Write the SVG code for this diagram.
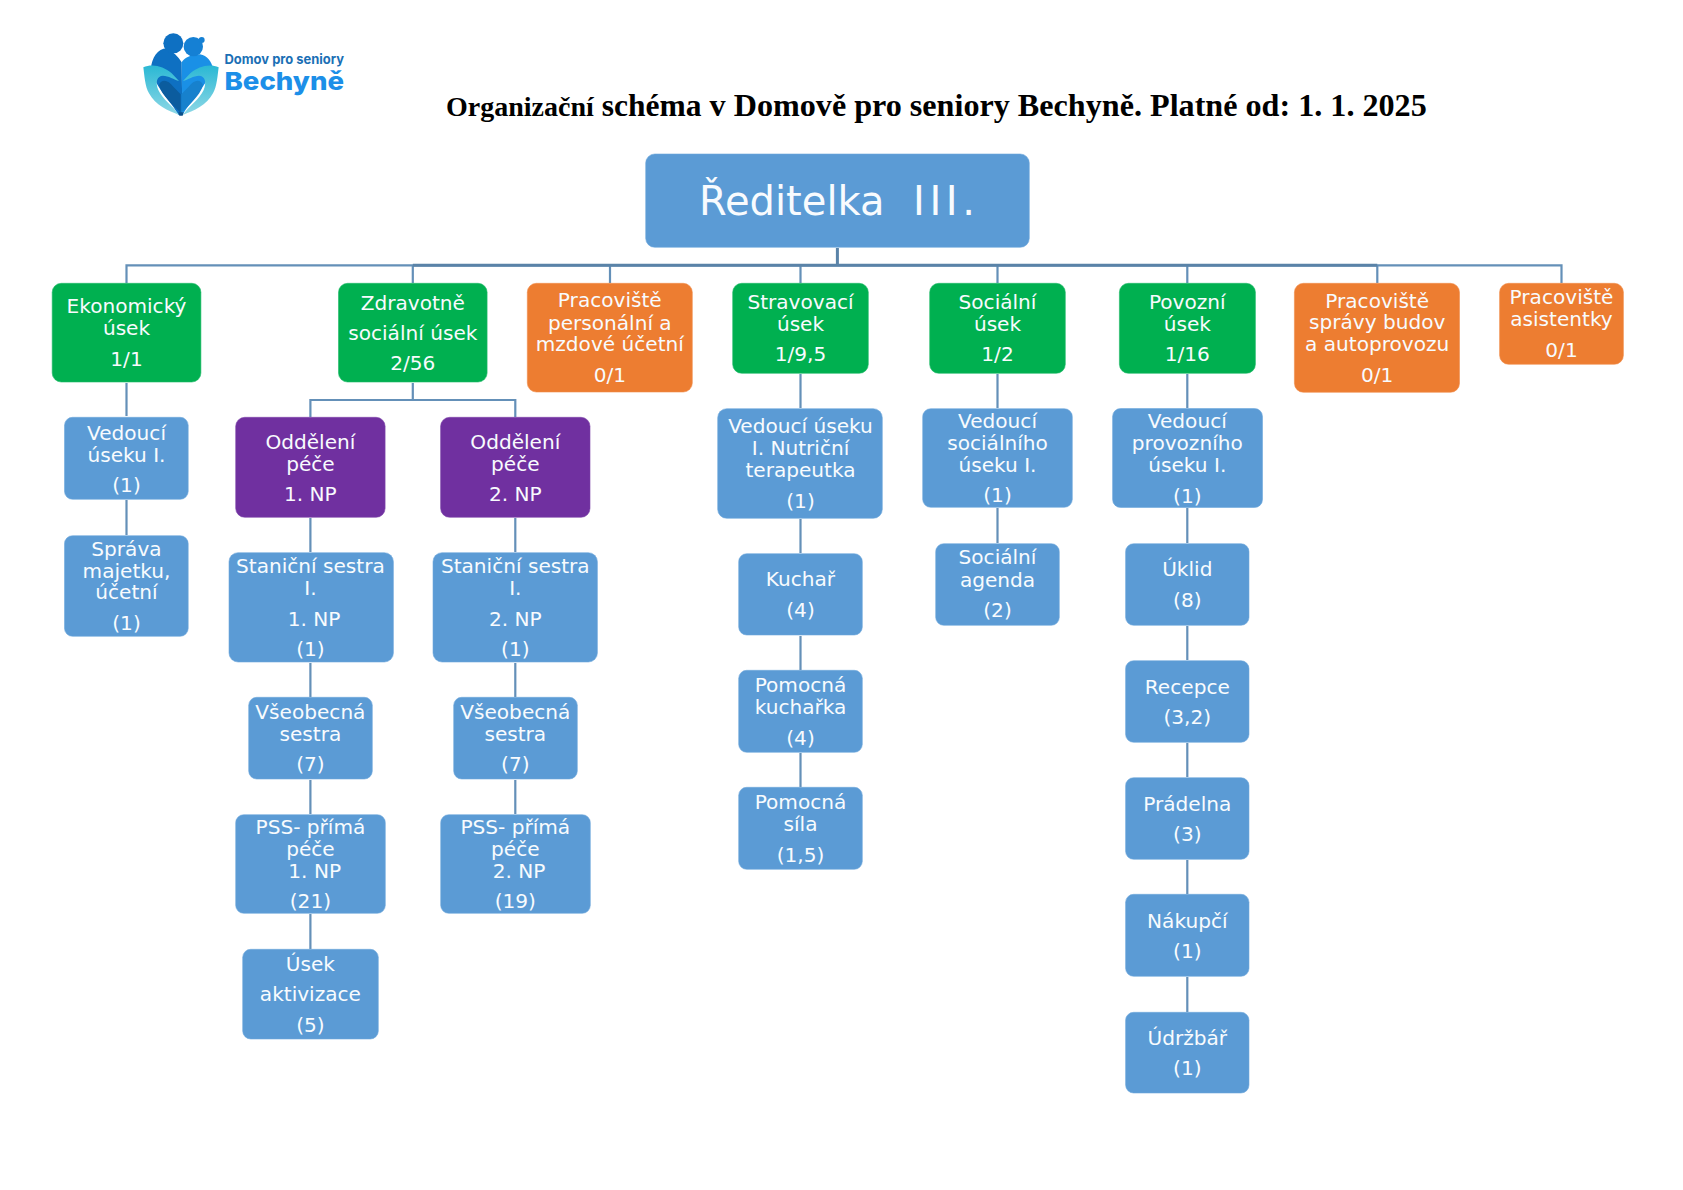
<svg xmlns="http://www.w3.org/2000/svg" width="1683" height="1190" viewBox="0 0 1683 1190">
<style>
.b{fill:#5b9bd5;stroke:#6fa8dc}.g{fill:#00b050;stroke:#1fb868}.o{fill:#ed7d31;stroke:#f08d4b}.p{fill:#7030a0;stroke:#7d45aa}
rect{stroke-width:.6}
text{font-family:"DejaVu Sans",Verdana,sans-serif;font-size:20.1px;fill:#f8fbfe;text-anchor:middle}
#connectors path{fill:none;stroke:#6490b8;stroke-width:2.2}
#connectors path.trunk{stroke:#5a83a8;stroke-width:3}
#title text{font-family:"Liberation Serif",serif;font-weight:bold;fill:#000;text-anchor:start;font-size:32.15px}
#logo text{text-anchor:start;font-family:Inter,"Open Sans",sans-serif}
</style>
<defs>
<linearGradient id="hand" x1="0" y1="0" x2="0" y2="1"><stop offset="0" stop-color="#2ab8d4"/><stop offset="1" stop-color="#8ed8e6"/></linearGradient>
</defs>
<rect width="1683" height="1190" fill="#fff" stroke="none"/>
<g id="logo">
<g transform="translate(135 25) scale(.3333)">
<path fill="#0e70c2" d="M48 130C50 100 68 70 95 70C115 82 130 95 140 112L142 270H130C110 230 60 190 48 130Z"/>
<path fill="#1a90e6" d="M140 112C150 98 165 90 195 88C217 92 230 110 234 130C210 190 165 230 142 270Z"/>
<circle cx="115" cy="55" r="30" fill="#0e70c2"/>
<circle cx="175" cy="65" r="29" fill="#1580d4"/>
<circle cx="200" cy="45" r="9" fill="#1580d4"/>
<path fill="#0b5c9e" d="M72 180C80 160 100 165 115 185L137 208V264C115 240 82 215 72 180Z"/>
<path fill="#1781cd" d="M204 180C196 160 176 165 161 185L139 208V264C161 240 194 215 204 180Z"/>
<path fill="url(#hand)" d="M25 127C50 115 85 122 110 145L132 168C118 164 100 152 84 152C66 152 60 172 70 195C82 222 115 245 133 270C100 258 60 240 42 205C30 185 28 150 25 127Z"/>
<path fill="url(#hand)" d="M251 127C226 115 191 122 166 145L144 168C158 164 176 152 192 152C210 152 216 172 206 195C194 222 161 245 143 270C176 258 216 240 234 205C246 185 248 150 251 127Z"/>
<path fill="#0b4f8a" d="M130 262H146L143 272H133Z"/>
</g>
<text x="224.5" y="64.3" style="fill:#1a6fb5;font-size:13px;font-weight:700" textLength="119.5" lengthAdjust="spacingAndGlyphs">Domov pro seniory</text>
<text x="224.5" y="90" style="fill:#1c8fe8;font-size:25px;font-weight:800" textLength="119.5" lengthAdjust="spacingAndGlyphs">Bechyně</text>
</g>
<g id="title"><text x="446" y="116"><tspan style="font-size:28px">Organizační</tspan> <tspan style="font-size:31.5px">schéma</tspan> v Domově pro seniory Bechyně. Platné od: 1. 1. 2025</text></g>
<g id="connectors">
<path d="M126.5 283V265.3H1561.5V283M412.8 265V283M610 265V283M800.5 265V283M997.5 265V283M1187.3 265V283M1377.3 265V283"/>
<path class="trunk" d="M412.8 265.3H1377.3M837.4 248V265"/>
<path d="M126.5 383V416M126.5 500V535"/>
<path d="M412.8 383V400M310.4 417V400H515.3V417"/>
<path d="M310.4 518V552M310.4 663V697M310.4 780V814M310.4 914V949"/>
<path d="M515.3 518V552M515.3 663V697M515.3 780V814"/>
<path d="M800.5 374V408M800.5 519V553M800.5 636V670M800.5 753V787"/>
<path d="M997.5 374V408M997.5 508V543"/>
<path d="M1187.3 374V408M1187.3 508V543M1187.3 626V660M1187.3 743V777M1187.3 860V894M1187.3 977V1012"/>
</g>
<g id="n-reditelka"><rect class="b" x="645.7" y="154" width="383.6" height="93.3" rx="9"/><text x="699" y="215" style="font-size:40px;text-anchor:start" xml:space="preserve">Ředitelka  <tspan x="913" letter-spacing="4.6">III.</tspan></text></g>
<g id="n-ekonomicky"><rect class="g" x="52.2" y="283.3" width="148.7" height="98.7" rx="9"/><text x="126.5" y="313.3">Ekonomický</text><text x="126.5" y="335.3">úsek</text><text x="126.5" y="366">1/1</text></g>
<g id="n-zdravotne"><rect class="g" x="338.5" y="283.3" width="148.6" height="98.7" rx="9"/><text x="412.8" y="310">Zdravotně</text><text x="412.8" y="340">sociální úsek</text><text x="412.8" y="370">2/56</text></g>
<g id="n-personalni"><rect class="o" x="527.3" y="283.3" width="165" height="108.7" rx="9"/><text x="609.8" y="307.3">Pracoviště</text><text x="609.8" y="329.5">personální a</text><text x="609.8" y="351">mzdové účetní</text><text x="609.8" y="381.7">0/1</text></g>
<g id="n-stravovaci"><rect class="g" x="732.7" y="283.3" width="135.6" height="90" rx="9"/><text x="800.5" y="309.3">Stravovací</text><text x="800.5" y="330.7">úsek</text><text x="800.5" y="361.3">1/9,5</text></g>
<g id="n-socialni"><rect class="g" x="929.7" y="283.3" width="135.6" height="90" rx="9"/><text x="997.5" y="309.3">Sociální</text><text x="997.5" y="330.7">úsek</text><text x="997.5" y="361.3">1/2</text></g>
<g id="n-povozni"><rect class="g" x="1119.4" y="283.3" width="136" height="90" rx="9"/><text x="1187.3" y="309.3">Povozní</text><text x="1187.3" y="330.7">úsek</text><text x="1187.3" y="361.3">1/16</text></g>
<g id="n-spravy"><rect class="o" x="1294.4" y="283.3" width="165.1" height="109" rx="9"/><text x="1377.2" y="307.7">Pracoviště</text><text x="1377.2" y="329.3">správy budov</text><text x="1377.2" y="351">a autoprovozu</text><text x="1377.2" y="381.7">0/1</text></g>
<g id="n-asistentky"><rect class="o" x="1499.6" y="283.3" width="123.8" height="81" rx="9"/><text x="1561.5" y="304.3">Pracoviště</text><text x="1561.5" y="326">asistentky</text><text x="1561.5" y="356.7">0/1</text></g>
<g id="n-ved-eko"><rect class="b" x="64.5" y="417.3" width="123.7" height="82" rx="8"/><text x="126.5" y="440">Vedoucí</text><text x="126.5" y="461.7">úseku I.</text><text x="126.5" y="492.3">(1)</text></g>
<g id="n-sprava"><rect class="b" x="64.5" y="535.7" width="123.7" height="100.6" rx="8"/><text x="126.5" y="555.7">Správa</text><text x="126.5" y="577.5">majetku,</text><text x="126.5" y="599.3">účetní</text><text x="126.5" y="630">(1)</text></g>
<g id="n-odd1"><rect class="p" x="235.7" y="417.3" width="149.4" height="100" rx="9"/><text x="310.4" y="449">Oddělení</text><text x="310.4" y="470.7">péče</text><text x="310.4" y="500.7">1. NP</text></g>
<g id="n-odd2"><rect class="p" x="440.6" y="417.3" width="149.4" height="100" rx="9"/><text x="515.3" y="449">Oddělení</text><text x="515.3" y="470.7">péče</text><text x="515.3" y="500.7">2. NP</text></g>
<g id="n-stan1"><rect class="b" x="229" y="552.7" width="164.4" height="109.3" rx="9"/><text x="310.4" y="573.3">Staniční sestra</text><text x="310.4" y="595">I.</text><text x="314" y="625.7">1. NP</text><text x="310.4" y="656">(1)</text></g>
<g id="n-stan2"><rect class="b" x="433" y="552.7" width="164.4" height="109.3" rx="9"/><text x="515.3" y="573.3">Staniční sestra</text><text x="515.3" y="595">I.</text><text x="515.3" y="625.7">2. NP</text><text x="515.3" y="656">(1)</text></g>
<g id="n-vs1"><rect class="b" x="248.7" y="697.3" width="123.6" height="81.7" rx="8"/><text x="310.4" y="719">Všeobecná</text><text x="310.4" y="740.7">sestra</text><text x="310.4" y="771.3">(7)</text></g>
<g id="n-vs2"><rect class="b" x="453.7" y="697.3" width="123.6" height="81.7" rx="8"/><text x="515.3" y="719">Všeobecná</text><text x="515.3" y="740.7">sestra</text><text x="515.3" y="771.3">(7)</text></g>
<g id="n-pss1"><rect class="b" x="235.7" y="814.7" width="149.6" height="98.6" rx="8"/><text x="310.4" y="834">PSS- přímá</text><text x="310.4" y="855.5">péče</text><text x="314.7" y="877.5">1. NP</text><text x="310.4" y="908.3">(21)</text></g>
<g id="n-pss2"><rect class="b" x="440.7" y="814.7" width="149.6" height="98.6" rx="8"/><text x="515.3" y="834">PSS- přímá</text><text x="515.3" y="855.5">péče</text><text x="519" y="877.5">2. NP</text><text x="515.3" y="908.3">(19)</text></g>
<g id="n-aktiv"><rect class="b" x="242.7" y="949.3" width="135.6" height="89.7" rx="8"/><text x="310.4" y="970.7">Úsek</text><text x="310.4" y="1001">aktivizace</text><text x="310.4" y="1031.7">(5)</text></g>
<g id="n-ved-nutr"><rect class="b" x="717.7" y="408.7" width="164.6" height="109.6" rx="9"/><text x="800.5" y="433.3">Vedoucí úseku</text><text x="800.5" y="455">I. Nutriční</text><text x="800.5" y="476.7">terapeutka</text><text x="800.5" y="507.7">(1)</text></g>
<g id="n-kuchar"><rect class="b" x="738.7" y="553.7" width="123.6" height="81.3" rx="8"/><text x="800.5" y="586">Kuchař</text><text x="800.5" y="617.3">(4)</text></g>
<g id="n-pomk"><rect class="b" x="738.7" y="670.3" width="123.6" height="82" rx="8"/><text x="800.5" y="692.3">Pomocná</text><text x="800.5" y="714">kuchařka</text><text x="800.5" y="745">(4)</text></g>
<g id="n-poms"><rect class="b" x="738.7" y="787.3" width="123.6" height="82" rx="8"/><text x="800.5" y="809.3">Pomocná</text><text x="800.5" y="831">síla</text><text x="800.5" y="861.7">(1,5)</text></g>
<g id="n-ved-soc"><rect class="b" x="922.7" y="408.7" width="149.6" height="98.6" rx="8"/><text x="997.5" y="428.3">Vedoucí</text><text x="997.5" y="450">sociálního</text><text x="997.5" y="471.7">úseku I.</text><text x="997.5" y="502.3">(1)</text></g>
<g id="n-agenda"><rect class="b" x="935.7" y="543.7" width="123.6" height="81.6" rx="8"/><text x="997.5" y="564.3">Sociální</text><text x="997.5" y="586.5">agenda</text><text x="997.5" y="617.3">(2)</text></g>
<g id="n-ved-prov"><rect class="b" x="1112.6" y="408.5" width="149.9" height="99" rx="8"/><text x="1187.3" y="428.3">Vedoucí</text><text x="1187.3" y="450">provozního</text><text x="1187.3" y="471.7">úseku I.</text><text x="1187.3" y="502.5">(1)</text></g>
<g id="n-uklid"><rect class="b" x="1125.6" y="543.7" width="123.4" height="81.6" rx="8"/><text x="1187.3" y="576">Úklid</text><text x="1187.3" y="606.7">(8)</text></g>
<g id="n-recepce"><rect class="b" x="1125.6" y="660.7" width="123.4" height="81.6" rx="8"/><text x="1187.3" y="693.7">Recepce</text><text x="1187.3" y="724">(3,2)</text></g>
<g id="n-pradelna"><rect class="b" x="1125.6" y="777.7" width="123.4" height="81.6" rx="8"/><text x="1187.3" y="810.7">Prádelna</text><text x="1187.3" y="841">(3)</text></g>
<g id="n-nakupci"><rect class="b" x="1125.6" y="894.3" width="123.4" height="82" rx="8"/><text x="1187.3" y="927.7">Nákupčí</text><text x="1187.3" y="958.3">(1)</text></g>
<g id="n-udrzbar"><rect class="b" x="1125.6" y="1012.3" width="123.4" height="80.7" rx="8"/><text x="1187.3" y="1045.3">Údržbář</text><text x="1187.3" y="1075.3">(1)</text></g>
</svg>
